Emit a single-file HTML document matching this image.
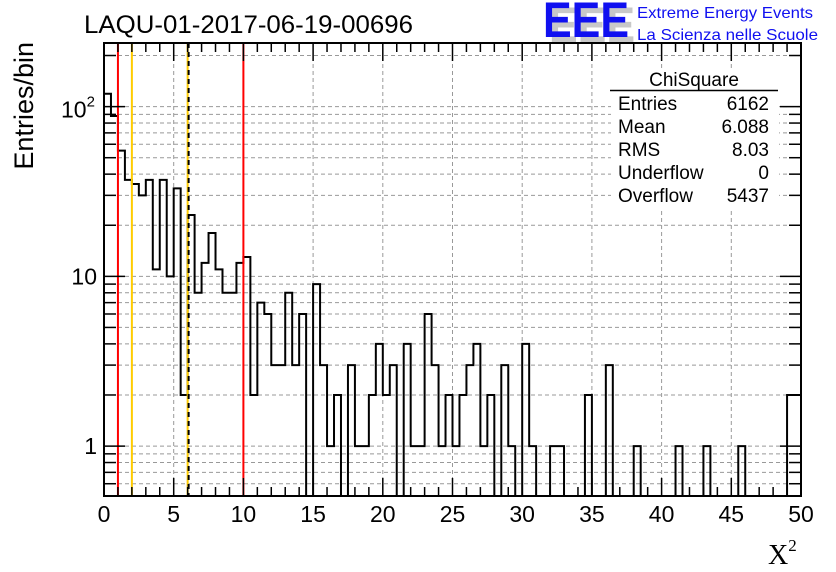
<!DOCTYPE html>
<html><head><meta charset="utf-8"><style>
body{margin:0;background:#fff;}
svg{display:block;font-family:"Liberation Sans",Arial,sans-serif;}
</style></head><body>
<svg id="c" width="836" height="572">
<rect x="0" y="0" width="836" height="572" fill="#fff"/>
<g id="grid"></g>
<g id="marks"></g>
<g id="lines"></g>
<g id="axes"></g>
<text x="84" y="33" font-size="25" textLength="329" lengthAdjust="spacingAndGlyphs">LAQU-01-2017-06-19-00696</text>
<g>
<text x="549" y="42" font-size="50" font-weight="bold" fill="#c8c8c8" textLength="86" lengthAdjust="spacingAndGlyphs">EEE</text>
<text x="543" y="37" font-size="50" font-weight="bold" fill="#1010f0" textLength="86" lengthAdjust="spacingAndGlyphs">EEE</text>
<text x="637" y="18" font-size="16" fill="#1010f0" textLength="176" lengthAdjust="spacingAndGlyphs">Extreme Energy Events</text>
<text x="637" y="40" font-size="16" fill="#1010f0" textLength="181" lengthAdjust="spacingAndGlyphs">La Scienza nelle Scuole</text>
</g>
<g>
<rect x="611" y="68" width="168" height="140" fill="#fff"/>
<text x="694" y="86" font-size="19" text-anchor="middle">ChiSquare</text>
<line x1="610" y1="90.5" x2="778" y2="90.5" stroke="#000" stroke-width="1.5"/>
<g font-size="19">
<text x="618" y="110">Entries</text><text x="769" y="110" text-anchor="end">6162</text>
<text x="618" y="133">Mean</text><text x="769" y="133" text-anchor="end">6.088</text>
<text x="618" y="156">RMS</text><text x="769" y="156" text-anchor="end">8.03</text>
<text x="618" y="179">Underflow</text><text x="769" y="179" text-anchor="end">0</text>
<text x="618" y="202">Overflow</text><text x="769" y="202" text-anchor="end">5437</text>
</g></g>
<text x="0" y="0" font-size="27" text-anchor="end" transform="translate(33 42) rotate(-90)">Entries/bin</text>
<text x="768" y="564" font-size="28" font-family="Liberation Serif,serif">X<tspan font-size="17" dy="-13">2</tspan></text>
</svg>
<script>
const binValues=[119,88,55,37,35,30,37,11,37,10,33,2,23,8,12,18,11,8,8,12,13,2,7,6,3,3,8,3,6,0,9,3,1,2,0,3,1,1,2,4,2,3,0,4,1,1,6,3,1,2,1,2,3,4,1,2,0,3,1,0,4,1,0,0,1,1,0,0,0,2,0,0,3,0,0,0,1,0,0,0,0,0,1,0,0,0,1,0,0,0,0,1,0,0,0,0,0,0,2,2];
const xTicks=[0,5,10,15,20,25,30,35,40,45,50];
const yDecades=[1,10,100];
const cutLines=[{x:1,c:"#ff0000"},{x:2,c:"#ffcc00"},{x:6,c:"#ffcc00"},{x:10,c:"#ff0000"}];
const X0=104,X1=801,Y0=43,Y1=496,XMIN=0,XMAX=50,YMIN=0.508,YMAX=237;
const NS="http://www.w3.org/2000/svg";
function xs(v){return X0+(v-XMIN)/(XMAX-XMIN)*(X1-X0);}
function ys(v){return Y1-(Math.log10(v)-Math.log10(YMIN))/(Math.log10(YMAX)-Math.log10(YMIN))*(Y1-Y0);}
function mk(tag,attrs,parent){const e=document.createElementNS(NS,tag);for(const k in attrs)e.setAttribute(k,attrs[k]);parent.appendChild(e);return e;}
const grid=document.getElementById('grid'),marks=document.getElementById('marks'),lines=document.getElementById('lines'),axes=document.getElementById('axes');
xTicks.forEach(t=>{if(t>XMIN&&t<XMAX){const l=mk('line',{x1:xs(t),x2:xs(t),y1:Y0,y2:Y1,stroke:'#999','stroke-dasharray':'4,3','stroke-width':1},grid);

}});
const yGridVals=[];
[0.1,1,10,100].forEach(d=>{for(let m=1;m<10;m++){const v=d*m;if(v>YMIN&&v<YMAX)yGridVals.push(v);}});
yGridVals.forEach(v=>{const l=mk('line',{x1:X0,x2:X1,y1:ys(v),y2:ys(v),stroke:'#999','stroke-dasharray':'4,3','stroke-width':1},grid);


const major=yDecades.includes(v);const L=major?21:12;
const t1=mk('line',{x1:X0,x2:X0+L,y1:ys(v),y2:ys(v),stroke:'#000','stroke-width':1.5},axes);


const t2=mk('line',{x1:X1,x2:X1-L,y1:ys(v),y2:ys(v),stroke:'#000','stroke-width':1.5},axes);

});
const bw=(XMAX-XMIN)/binValues.length;
let d='M'+xs(0)+','+Y1;
binValues.forEach((v,i)=>{const y=v>0?Math.max(ys(v),Y0):Y1;d+=' L'+xs(i*bw)+','+y+' L'+xs((i+1)*bw)+','+y;});
d+=' L'+xs(XMAX)+','+Y1;
const p=mk('path',{d:d,fill:'none',stroke:'#000','stroke-width':2},marks);


cutLines.forEach(c=>{const l=mk('line',{x1:xs(c.x),x2:xs(c.x),y1:Y0,y2:Y1,stroke:c.c,'stroke-width':2},lines);

});
const dl=mk('line',{x1:xs(6)+1,x2:xs(6)+1,y1:Y0,y2:Y1,stroke:'#000','stroke-width':2,'stroke-dasharray':'5,4'},lines);


const fr=mk('rect',{x:X0,y:Y0,width:X1-X0,height:Y1-Y0,fill:'none',stroke:'#000','stroke-width':2},axes);


for(let v=XMIN;v<=XMAX+1e-9;v+=1){const major=v%5===0;const L=major?18:9;
const a=mk('line',{x1:xs(v),x2:xs(v),y1:Y1,y2:Y1-L,stroke:'#000','stroke-width':1.5},axes);


const b=mk('line',{x1:xs(v),x2:xs(v),y1:Y0,y2:Y0+L,stroke:'#000','stroke-width':1.5},axes);

}
xTicks.forEach(t=>{const tx=mk('text',{x:xs(t),y:522,'font-size':23,'text-anchor':'middle'},axes);tx.textContent=t;

});
[["1",1],["10",10]].forEach(([s,v])=>{const tx=mk('text',{x:97,y:ys(v)+8,'font-size':23,'text-anchor':'end'},axes);tx.textContent=s;

});
const t100=mk('text',{x:61,y:ys(100)+11,'font-size':23},axes);


t100.innerHTML='10<tspan font-size="15" dy="-11">2</tspan>';
</script>
</body></html>
